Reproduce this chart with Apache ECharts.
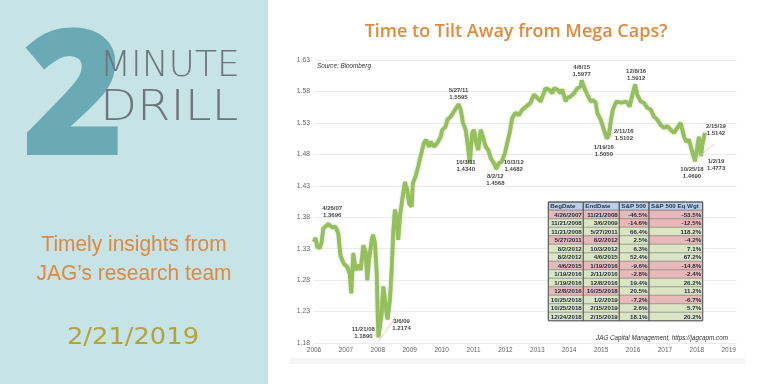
<!DOCTYPE html>
<html><head><meta charset="utf-8">
<script src="https://cdn.jsdelivr.net/npm/echarts@6/dist/echarts.min.js"></script>
<style>html,body{margin:0;padding:0;background:#fff}#c{width:768px;height:384px}</style>
</head><body><div id="c"></div>
<script>
// ---- series data (ratio S&P 500 Equal Weight / S&P 500) ----
const dates = ['2006-11-13','2006-12-02','2006-12-21','2007-01-18','2007-02-10','2007-02-28','2007-04-26','2007-06-08','2007-07-19','2007-08-18','2007-09-15','2007-10-23','2007-11-30','2007-12-28','2008-01-15','2008-02-07','2008-03-06','2008-04-05','2008-05-02','2008-06-01','2008-06-28','2008-07-17','2008-08-05','2008-09-06','2008-09-21','2008-10-13','2008-11-02','2008-11-12','2008-11-21','2008-12-29','2009-01-16','2009-02-05','2009-02-24','2009-03-06','2009-04-02','2009-04-22','2009-05-10','2009-05-29','2009-06-18','2009-07-06','2009-07-26','2009-08-21','2009-09-21','2009-10-17','2009-11-06','2009-12-07','2009-12-21','2010-01-21','2010-02-20','2010-03-19','2010-04-26','2010-05-22','2010-06-23','2010-07-12','2010-08-19','2010-09-26','2010-11-04','2010-11-22','2010-12-31','2011-01-19','2011-02-27','2011-04-05','2011-05-27','2011-06-21','2011-07-17','2011-08-17','2011-09-12','2011-10-03','2011-10-31','2011-11-20','2011-12-16','2012-01-08','2012-02-05','2012-03-02','2012-04-02','2012-05-02','2012-05-29','2012-07-06','2012-08-02','2012-09-02','2012-10-03','2012-11-09','2012-12-05','2013-01-02','2013-02-01','2013-03-11','2013-04-18','2013-05-26','2013-07-11','2013-08-30','2013-10-07','2013-11-13','2013-12-22','2014-02-18','2014-03-27','2014-05-05','2014-05-24','2014-07-01','2014-08-09','2014-08-27','2014-10-05','2014-10-24','2014-12-01','2015-01-08','2015-02-15','2015-03-25','2015-04-06','2015-05-14','2015-06-09','2015-07-18','2015-08-17','2015-09-14','2015-10-02','2015-11-10','2015-12-17','2016-01-19','2016-02-11','2016-03-07','2016-03-28','2016-05-07','2016-07-03','2016-08-29','2016-10-07','2016-11-02','2016-12-08','2017-01-02','2017-02-10','2017-03-19','2017-04-26','2017-06-04','2017-07-12','2017-08-19','2017-09-26','2017-11-03','2017-12-11','2018-01-19','2018-02-26','2018-04-05','2018-05-14','2018-06-21','2018-07-17','2018-08-17','2018-09-17','2018-10-25','2018-11-20','2018-12-08','2018-12-20','2019-01-02','2019-01-20','2019-02-01','2019-02-15'];
const ratio = [1.341,1.347,1.333,1.331,1.340,1.362,1.3696,1.364,1.365,1.355,1.318,1.306,1.301,1.290,1.259,1.323,1.296,1.304,1.296,1.335,1.325,1.280,1.312,1.344,1.352,1.339,1.291,1.233,1.189,1.227,1.270,1.248,1.227,1.2174,1.248,1.296,1.355,1.392,1.381,1.344,1.381,1.408,1.436,1.424,1.402,1.397,1.434,1.445,1.461,1.477,1.498,1.503,1.492,1.500,1.492,1.498,1.508,1.519,1.524,1.535,1.540,1.548,1.5595,1.551,1.530,1.519,1.492,1.466,1.514,1.519,1.498,1.487,1.519,1.508,1.492,1.487,1.474,1.466,1.4568,1.466,1.4682,1.482,1.498,1.514,1.538,1.546,1.542,1.551,1.556,1.562,1.575,1.570,1.564,1.585,1.583,1.577,1.585,1.583,1.577,1.583,1.564,1.570,1.572,1.577,1.585,1.588,1.5977,1.583,1.575,1.564,1.566,1.562,1.546,1.535,1.519,1.5050,1.5102,1.535,1.551,1.564,1.562,1.564,1.556,1.572,1.5912,1.575,1.564,1.562,1.554,1.551,1.540,1.535,1.527,1.522,1.525,1.519,1.514,1.522,1.530,1.508,1.500,1.503,1.487,1.4690,1.492,1.508,1.492,1.4773,1.498,1.505,1.5142];

// ---- annotated turning points ----
const annDates  = ['2007-04-26','2008-11-21','2009-03-06','2011-05-27','2011-10-03','2012-08-02','2012-10-03','2015-04-06','2016-12-08','2016-01-19','2016-02-11','2018-10-25','2019-01-02','2019-02-15'];
const annValues = [1.3696,1.1890,1.2174,1.5595,1.4340,1.4568,1.4682,1.5977,1.5912,1.5050,1.5102,1.4690,1.4773,1.5142];

// ---- axis ticks ----
const yearTicks = [2006,2007,2008,2009,2010,2011,2012,2013,2014,2015,2016,2017,2018,2019];
const yTickLabels = ['1.18','1.23','1.28','1.33','1.38','1.43','1.48','1.53','1.58','1.63'];

// ---- table ----
const tblHeader = ['BegDate','EndDate','S&P 500','S&P 500 Eq Wgt'];
const tblBeg = ['4/26/2007','11/21/2008','11/21/2008','5/27/2011','8/2/2012','8/2/2012','4/6/2015','1/19/2016','1/19/2016','12/8/2016','10/25/2018','10/25/2018','12/24/2018'];
const tblEnd = ['11/21/2008','3/6/2009','5/27/2011','8/2/2012','10/3/2012','4/6/2015','1/19/2016','2/11/2016','12/8/2016','10/25/2018','1/2/2019','2/15/2019','2/15/2019'];
const tblSpx = [-46.5,-14.6,66.4,2.5,6.3,52.4,-9.6,-2.8,19.4,20.5,-7.2,2.6,18.1];
const tblEqw = [-53.5,-12.5,118.2,-4.2,7.1,67.2,-14.8,-2.4,26.2,11.2,-6.7,5.7,20.2];

// ---- layout / style (not data) ----
const LABEL_SHIFT = 0.87; // year labels of the original sit near November of each year
const annOffsets = [[4,-12],[-15,-4],[14,5],[0,-10],[-4,-17.5],[-1,11],[12,4],[0,-9],[1,-10],[-3,12],[15,0],[-3,12],[15,9],[11,-3]];

function toX(s){
  const p = s.split('-').map(Number);
  const a = Date.UTC(p[0],0,1), b = Date.UTC(p[0]+1,0,1);
  return p[0] + (Date.UTC(p[0],p[1]-1,p[2]) - a)/(b-a) - LABEL_SHIFT;
}
function shortDate(s){ const p=s.split('-').map(Number); return p[1]+'/'+p[2]+'/'+String(p[0]).slice(2); }

const lineData = dates.map((d,i)=>[toX(d), ratio[i]]);
const annData = annDates.map((d,i)=>({
  value:[toX(d), annValues[i]],
  label:{offset:annOffsets[i], formatter: shortDate(d)+'\n'+annValues[i].toFixed(4)}
}));

const chart = echarts.init(document.getElementById('c'), null, {renderer:'canvas'});

// table graphics
const colX = [548.3, 583.3, 619.3, 649, 702.7];
const tTop = 202, hH = 8.3, rH = 8.5;
const PINK = '#e9b8b8', GREEN = '#d9e5c3', HEAD = '#bad0e6';
const TZ = 50;
const tbl = [];
tblHeader.forEach((h,c)=>{
  tbl.push({type:'rect', z:TZ, shape:{x:colX[c], y:tTop, width:colX[c+1]-colX[c], height:hH}, style:{fill:HEAD, stroke:'#555', lineWidth:0.7}});
  tbl.push({type:'text', z:TZ+1, x:colX[c]+2, y:tTop+hH/2+0.3, style:{text:h, fill:'#1d3350', font:'bold 6.2px "Liberation Sans", Arial', align:'left', verticalAlign:'middle'}});
});
tblBeg.forEach((b,r)=>{
  const y = tTop + hH + r*rH;
  const dateCol = tblEqw[r] > tblSpx[r] ? GREEN : PINK;
  const cells = [b, tblEnd[r], tblSpx[r].toFixed(1)+'%', tblEqw[r].toFixed(1)+'%'];
  const fills = [dateCol, dateCol, tblSpx[r] < 0 ? PINK : GREEN, tblEqw[r] < 0 ? PINK : GREEN];
  cells.forEach((t,c)=>{
    tbl.push({type:'rect', z:TZ, shape:{x:colX[c], y:y, width:colX[c+1]-colX[c], height:rH}, style:{fill:fills[c], stroke:'#777', lineWidth:0.5}});
    tbl.push({type:'text', z:TZ+1, x:colX[c+1]-1.5, y:y+rH/2+0.3, style:{text:t, fill:'#1d2a3a', font:'bold 6.2px "Liberation Sans", Arial', align:'right', verticalAlign:'middle'}});
  });
});
tbl.push({type:'rect', z:TZ+2, shape:{x:colX[0], y:tTop, width:colX[4]-colX[0], height:hH+rH*tblBeg.length}, style:{fill:'none', stroke:'#555', lineWidth:1}});
for (let c=1;c<4;c++) tbl.push({type:'line', z:TZ+2, shape:{x1:colX[c], y1:tTop, x2:colX[c], y2:tTop+hH+rH*tblBeg.length}, style:{stroke:'#555', lineWidth:0.9}});

const option = {
  backgroundColor:'#ffffff',
  animation:false,
  grid:{left:314, right:31.3, top:60, bottom:41, containLabel:false},
  xAxis:{
    type:'value', min:yearTicks[0], max:2019.25, interval:1,
    axisLine:{show:false}, axisTick:{show:false}, splitLine:{show:false},
    axisLabel:{margin:4, color:'#666', fontSize:6.5, fontFamily:'"Liberation Sans", Arial',
      formatter:v=>{ const r=Math.round(v); return (Math.abs(v-r)<1e-6 && yearTicks.indexOf(r)>=0) ? String(r) : ''; }}
  },
  yAxis:{
    type:'value', min:1.18, max:1.63, interval:0.01,
    axisLine:{show:false}, axisTick:{show:false},
    splitLine:{show:true, lineStyle:{color:['#e6e6e6','rgba(0,0,0,0)','rgba(0,0,0,0)','rgba(0,0,0,0)','rgba(0,0,0,0)'], width:0.8}},
    axisLabel:{margin:4, color:'#666', fontSize:6.8, fontFamily:'"Liberation Sans", Arial',
      formatter:v=>{ const s=v.toFixed(2); return yTickLabels.indexOf(s)>=0 ? s : ''; }}
  },
  series:[
    {type:'line', data:lineData, showSymbol:false, z:3,
      lineStyle:{color:'#94c05b', width:3.8, shadowColor:'rgba(110,150,60,0.5)', shadowBlur:2},
      markLine:{silent:true, symbol:['none','none'], label:{show:false},
        lineStyle:{color:'#e7bfa6', width:0.8, type:'solid'},
        data:[
          [{coord:[toX('2008-11-20'),1.182]},{coord:[toX('2009-06-07'),1.221]}],
          [{coord:[toX('2018-11-01'),1.4724]},{coord:[toX('2019-05-30'),1.4962]}]
        ]}
    },
    {type:'scatter', data:annData, symbolSize:0, z:5, silent:true,
      label:{show:true, position:'inside', color:'#111', fontSize:6, fontWeight:'bold', lineHeight:7,
        fontFamily:'"Liberation Sans", Arial', align:'center', verticalAlign:'middle'}}
  ],
  graphic:[
    {type:'rect', z:-10, shape:{x:0,y:0,width:268,height:384}, style:{fill:'#c6e3e5'}},
    {type:'rect', z:-10, shape:{x:290,y:358,width:455,height:6}, style:{fill:'#f6f6f6'}},
    {type:'text', x:73, y:105, style:{text:'2', fill:'#6aaab4', font:'800 175px "Open Sans"', align:'center', verticalAlign:'middle'}},
    {type:'text', x:100, y:67, style:{text:'MINUTE', fill:'#6d777b', font:'200 36px "DejaVu Sans"', align:'left', verticalAlign:'middle'}},
    {type:'text', x:100, y:109, scaleX:1.12, style:{text:'DRILL', fill:'#6d777b', font:'200 43px "DejaVu Sans"', align:'left', verticalAlign:'middle'}},
    {type:'text', x:134, y:245, scaleX:0.93, style:{text:'Timely insights from', fill:'#e0883e', font:'22.5px "Liberation Sans", Arial', align:'center', verticalAlign:'middle'}},
    {type:'text', x:134, y:274, scaleX:0.93, style:{text:'JAG\u2019s research team', fill:'#e0883e', font:'22.5px "Liberation Sans", Arial', align:'center', verticalAlign:'middle'}},
    {type:'text', x:133, y:338, scaleX:1.12, style:{text:'2/21/2019', fill:'#b5a23c', font:'23px "DejaVu Sans"', align:'center', verticalAlign:'middle'}},
    {type:'text', x:516, y:32, style:{text:'Time to Tilt Away from Mega Caps?', fill:'#e3893a', font:'600 18px "Open Sans"', align:'center', verticalAlign:'middle'}},
    {type:'text', x:317, y:66, style:{text:'Source: Bloomberg', fill:'#333', font:'italic 6.3px "Liberation Sans", Arial', align:'left', verticalAlign:'middle'}},
    {type:'text', x:728, y:338, style:{text:'JAG Capital Management, https://jagcapm.com', fill:'#333', font:'italic 6.3px "Liberation Sans", Arial', align:'right', verticalAlign:'middle'}},
    {type:'group', children:tbl}
  ]
};
chart.setOption(option);
</script></body></html>
